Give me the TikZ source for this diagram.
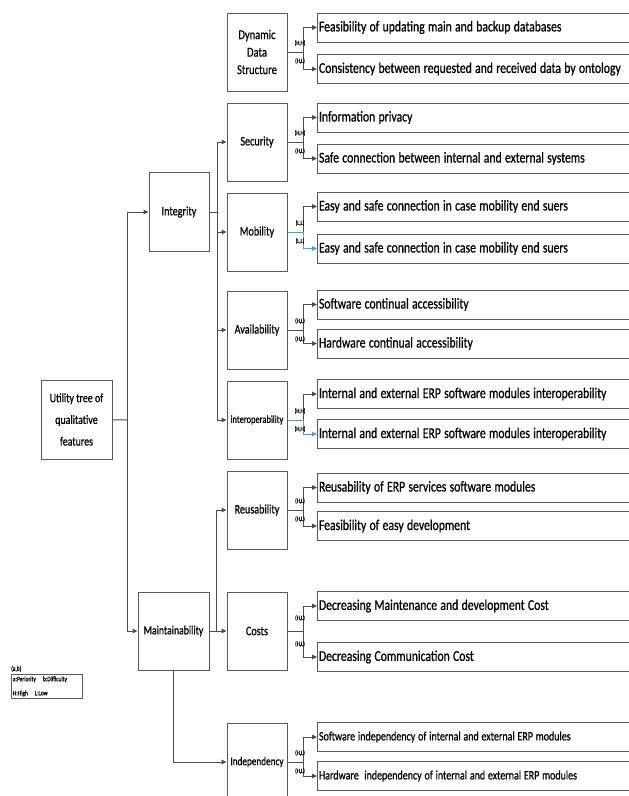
\documentclass[tikz,border=0pt]{standalone}
\usepackage{fontspec}
\setmainfont{Carlito}[FakeStretch=0.78, FakeBold=0.7]
\usetikzlibrary{arrows.meta}
\begin{document}
\begin{tikzpicture}[x=1pt,y=-1pt,
  box/.style={draw=black!65, line width=1pt, fill=white, inner sep=1pt, align=center},
  cat/.style={box, minimum width=60pt, minimum height=78pt, font=\fontsize{13}{15}\selectfont},
  leaf/.style={box, anchor=west, text width=316pt, minimum height=29pt, align=left, inner xsep=1.5pt, font=\fontsize{15}{17}\selectfont, execute at begin node={\spaceskip=3.3pt\relax}},
  leafs/.style={leaf, font=\fontsize{12.8}{14}\selectfont, execute at begin node={\spaceskip=2.8pt\relax}},
  conn/.style={draw=black!70, line width=1pt},
  arr/.style={conn, -{Triangle[length=5pt,width=4.5pt]}},
  bluecon/.style={draw={rgb,255:red,91;green,155;blue,213}},
  lab/.style={font=\fontsize{6.5}{7}\selectfont, inner sep=0pt}
]
\useasboundingbox (0,0) rectangle (629,796);
\clip (0,0) rectangle (629,796);

% root and second level
\node[box, minimum width=71pt, minimum height=79pt, font=\fontsize{12.7}{21.7}\selectfont] (util) at (76.5,419.5) {Utility tree of\\qualitative\\features};
\node[box, minimum width=60pt, minimum height=79pt, font=\fontsize{13}{15}\selectfont] (integ) at (179,212) {Integrity};
\node[box, minimum width=71pt, minimum height=78pt, font=\fontsize{12.5}{15}\selectfont] (maint) at (173.5,631) {Maintainability};

% categories
\node[cat, font=\fontsize{13.5}{17.5}\selectfont] (dyn) at (257,52) {Dynamic\\Data\\Structure};
\node[cat] (sec) at (257,142) {Security};
\node[cat] (mob) at (257,232) {Mobility};
\node[cat] (ava) at (257,330) {Availability};
\node[cat, font=\fontsize{10.8}{13}\selectfont] (intr) at (257,420) {interoperability};
\node[cat] (reu) at (257,510) {Reusability};
\node[cat] (cos) at (257,631) {Costs};
\node[cat, font=\fontsize{11.8}{14}\selectfont] (ind) at (257,762) {Independency};

% leaves
\node[leaf] (dyn1) at (317,27.5) {Feasibility of updating main and backup databases};
\node[leaf] (dyn2) at (317,69) {Consistency between requested and received data by ontology};
\node[leaf] (sec1) at (317,117.5) {Information privacy};
\node[leaf] (sec2) at (317,158.5) {Safe connection between internal and external systems};
\node[leaf] (mob1) at (317,206.5) {Easy and safe connection in case mobility end suers};
\node[leaf] (mob2) at (317,248.5) {Easy and safe connection in case mobility end suers};
\node[leaf] (ava1) at (317,304.5) {Software continual accessibility};
\node[leaf] (ava2) at (317,343.5) {Hardware continual accessibility};
\node[leaf] (int1) at (317,394) {Internal and external ERP software modules interoperability};
\node[leaf] (int2) at (317,434) {Internal and external ERP software modules interoperability};
\node[leaf] (reu1) at (317,487.5) {Reusability of ERP services software modules};
\node[leaf] (reu2) at (317,526) {Feasibility of easy development};
\node[leaf] (cos1) at (317,606) {Decreasing Maintenance and development Cost};
\node[leaf] (cos2) at (317,657) {Decreasing Communication Cost};
\node[leafs] (ind1) at (317,737) {Software independency of internal and external ERP modules};
\node[leafs] (ind2) at (317,776) {Hardware\ \ independency of internal and external ERP modules};

% main tree connectors
\coordinate (t1) at (127,420);
\coordinate (t2) at (217,212);
\coordinate (t3) at (216,631);
\draw[conn] (util) -- (t1);
\draw[arr] (t1) |- (integ);
\draw[arr] (t1) |- (maint);
\draw[conn] (integ) -- (t2);
\draw[arr] (t2) |- (sec);
\draw[arr] (t2) |- (mob);
\draw[arr] (t2) |- (ava);
\draw[arr] (t2) |- (intr);
\draw[arr] (maint) -- (cos);
\draw[arr] (t3) |- (reu);
\draw[arr] (maint.south) |- (ind);

% leaf forks
\foreach \c/\la/\lb/\d in {dyn/{(H,L)}/{(H,H)}/9, sec/{(H,L)}/{(H,H)}/9, ava/{(H,L)}/{(H,L)}/9, reu/{(H,L)}/{(H,L)}/9, cos/{(H,L)}/{(H,L)}/13, ind/{(H,L)}/{(H,L)}/9}{
  \coordinate (\c j) at (\c.east -| 303,0);
  \draw[conn] (\c) -- (\c j);
  \draw[arr] (\c j) |- (\c1);
  \draw[arr] (\c j) |- (\c2);
  \node[lab] (\c la) at ([yshift=-\d pt]\c j) [xshift=-3pt] {\la};
  \node[lab] (\c lb) at ([yshift=\d pt]\c j) [xshift=-3pt] {\lb};
}
\foreach \c/\k/\la/\lb in {mob/mob/{(L,L)}/{(L,L)}, intr/int/{(H,H)}/{(H,H)}}{
  \coordinate (\c j) at (\c.east -| 303,0);
  \draw[conn, bluecon, line width=0.8pt] (\c) -- (\c j);
  \draw[arr] (\c j) |- (\k1);
  \draw[arr, bluecon, line width=0.8pt] (\c j) |- (\k2);
  \node[lab] (\c la) at ([yshift=-9pt]\c j) [xshift=-3pt] {\la};
  \node[lab] (\c lb) at ([yshift=9pt]\c j) [xshift=-3pt] {\lb};
}

% legend
\node[anchor=south west, font=\fontsize{7}{8}\selectfont, inner sep=0pt] (ab) at (11,672) {(a,b)};
\node[draw=black!65, line width=0.8pt, anchor=north west, text width=68pt, inner xsep=1.5pt, inner ysep=2pt, align=left, font=\fontsize{7}{14}\selectfont] (leg) at (11,674) {a:Periority\quad b:Difficulty\\H:High\quad L:Low};
\end{tikzpicture}
\end{document}
